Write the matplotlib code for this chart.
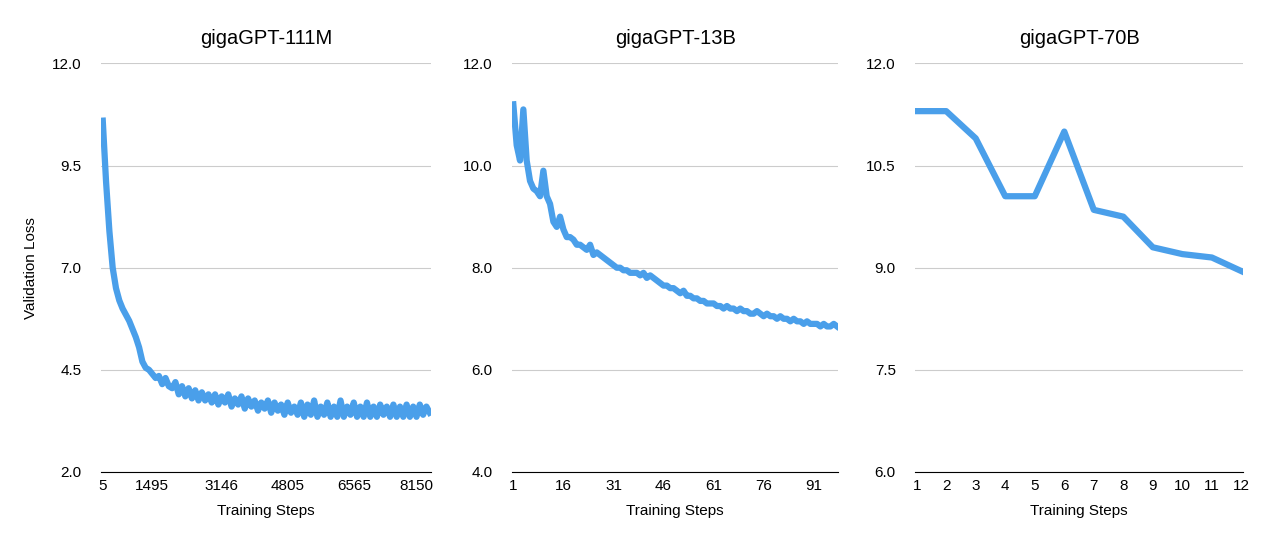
import matplotlib.pyplot as plt
import numpy as np

plt.rcParams['font.family'] = ['Liberation Sans', 'DejaVu Sans']

line_color = '#4A9FEA'

# gigaGPT-111M (one value per logged step, x axis is categorical)
loss_111m = [10.6, 9.1, 7.9, 7.0, 6.5, 6.2, 6.0, 5.85, 5.7, 5.5,
             5.3, 5.05, 4.7, 4.55, 4.5, 4.4, 4.3, 4.35, 4.15, 4.3,
             4.1, 4.05, 4.2, 3.9, 4.1, 3.85, 4.05, 3.8, 4.0, 3.75,
             3.95, 3.75, 3.9, 3.7, 3.9, 3.65, 3.85, 3.7, 3.9, 3.6,
             3.8, 3.65, 3.85, 3.55, 3.8, 3.6, 3.75, 3.5, 3.7, 3.55,
             3.75, 3.45, 3.7, 3.5, 3.65, 3.4, 3.7, 3.45, 3.6, 3.4,
             3.7, 3.35, 3.65, 3.4, 3.75, 3.35, 3.6, 3.4, 3.7, 3.35,
             3.6, 3.35, 3.75, 3.35, 3.6, 3.4, 3.7, 3.35, 3.6, 3.35,
             3.7, 3.35, 3.6, 3.35, 3.65, 3.4, 3.6, 3.35, 3.65, 3.35,
             3.6, 3.35, 3.65, 3.35, 3.6, 3.35, 3.65, 3.4, 3.6, 3.45]
ticks_111m = ['5', '1495', '3146', '4805', '6565', '8150']
tick_idx_111m = [0, 15, 36, 56, 76, 95]

# gigaGPT-13B
loss_13b = [11.2, 10.4, 10.1, 11.1, 10.1, 9.7, 9.55, 9.5, 9.4, 9.9,
            9.4, 9.25, 8.9, 8.8, 9.0, 8.75, 8.6, 8.6, 8.55, 8.45,
            8.45, 8.4, 8.35, 8.45, 8.25, 8.3, 8.25, 8.2, 8.15, 8.1,
            8.05, 8.0, 8.0, 7.95, 7.95, 7.9, 7.9, 7.9, 7.85, 7.9,
            7.8, 7.85, 7.8, 7.75, 7.7, 7.65, 7.65, 7.6, 7.6, 7.55,
            7.5, 7.55, 7.45, 7.45, 7.4, 7.4, 7.35, 7.35, 7.3, 7.3,
            7.3, 7.25, 7.25, 7.2, 7.25, 7.2, 7.2, 7.15, 7.2, 7.15,
            7.15, 7.1, 7.1, 7.15, 7.1, 7.05, 7.1, 7.05, 7.05, 7.0,
            7.05, 7.0, 7.0, 6.95, 7.0, 6.95, 6.95, 6.9, 6.95, 6.9,
            6.9, 6.9, 6.85, 6.9, 6.85, 6.85, 6.9, 6.85]
steps_13b = np.arange(1, len(loss_13b) + 1)

# gigaGPT-70B
steps_70b = np.arange(1, 13)
loss_70b = [11.3, 11.3, 10.9, 10.05, 10.05, 11.0, 9.85, 9.75, 9.3, 9.2, 9.15, 8.95]

fig = plt.figure(figsize=(12.8, 5.52), dpi=100)
axes = [fig.add_axes([0.079, 0.145, 0.258, 0.74]),
        fig.add_axes([0.400, 0.145, 0.255, 0.74]),
        fig.add_axes([0.715, 0.145, 0.256, 0.74])]


def style(ax, title):
    ax.set_title(title, fontsize=14.5, pad=14)
    ax.grid(axis='y', color='#cccccc', linewidth=0.8)
    ax.set_axisbelow(True)
    for s in ['top', 'right', 'left']:
        ax.spines[s].set_visible(False)
    ax.spines['bottom'].set_color('black')
    ax.tick_params(axis='y', length=0, labelsize=11, pad=14)
    ax.tick_params(axis='x', length=0, labelsize=11, pad=5)
    ax.set_xlabel('Training Steps', fontsize=11, labelpad=8)


ax = axes[0]
ax.plot(range(len(loss_111m)), loss_111m, color=line_color, lw=4.5)
ax.set_xticks(tick_idx_111m, ticks_111m)
ax.set_xlim(-0.5, len(loss_111m) - 0.5)
ax.set_ylim(2.0, 12.0)
ax.set_yticks([2.0, 4.5, 7.0, 9.5, 12.0], ['2.0', '4.5', '7.0', '9.5', '12.0'])
ax.set_ylabel('Validation Loss', fontsize=11, labelpad=10)
style(ax, 'gigaGPT-111M')

ax = axes[1]
ax.plot(steps_13b, loss_13b, color=line_color, lw=4.5)
ax.set_xticks([1, 16, 31, 46, 61, 76, 91])
ax.set_xlim(0.6, len(loss_13b) + 0.4)
ax.set_ylim(4.0, 12.0)
ax.set_yticks([4, 6, 8, 10, 12], ['4.0', '6.0', '8.0', '10.0', '12.0'])
style(ax, 'gigaGPT-13B')

ax = axes[2]
ax.plot(steps_70b, loss_70b, color=line_color, lw=4.5)
ax.set_xticks(steps_70b)
ax.set_xlim(0.95, 12.05)
ax.set_ylim(6.0, 12.0)
ax.set_yticks([6, 7.5, 9, 10.5, 12], ['6.0', '7.5', '9.0', '10.5', '12.0'])
style(ax, 'gigaGPT-70B')

fig.savefig('out.png', dpi=100)
